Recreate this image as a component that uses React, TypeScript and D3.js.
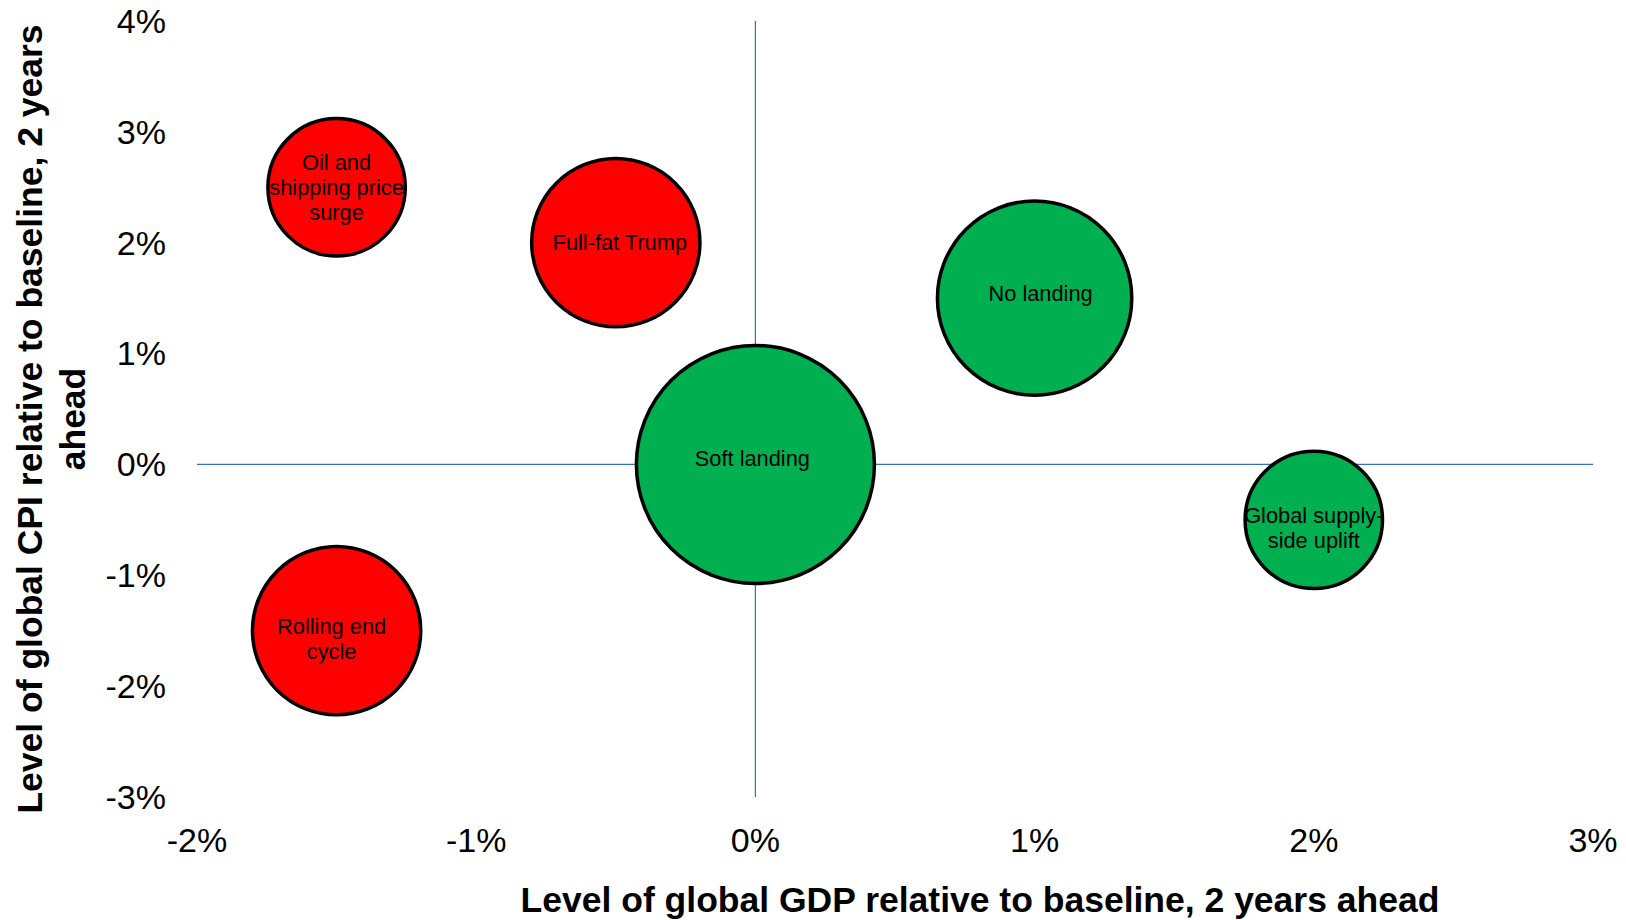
import React from "react";
import * as d3 from "d3";

const scenarios = ["Oil and shipping price surge", "Full-fat Trump", "No landing", "Soft landing", "Global supply-side uplift", "Rolling end cycle"];
const labelLines = [["Oil and", "shipping price", "surge"], ["Full-fat Trump"], ["No landing"], ["Soft landing"], ["Global supply-", "side uplift"], ["Rolling end", "cycle"]];
const gdp = [-0.015, -0.005, 0.01, 0.0, 0.02, -0.015];
const cpi = [0.025, 0.02, 0.015, 0.0, -0.005, -0.015];
const sizes = [10, 15, 20, 30, 10, 15];
const kinds = ["bad", "bad", "good", "good", "good", "bad"];
const xTicks = [-0.02, -0.01, 0, 0.01, 0.02, 0.03];
const yTicks = [-0.03, -0.02, -0.01, 0, 0.01, 0.02, 0.03, 0.04];
const xTitle = "Level of global GDP relative to baseline, 2 years ahead";
const yTitleLines = ["Level of global CPI relative to baseline, 2 years", "ahead"];

// small label placement nudges (pixels), as in the original data labels
const labelNudgeX = [0, 4, 6, -3, 0, -5];
const labelNudgeY = [0, 0, -5, -6, 8, 8];

const W = 1626;
const H = 920;
const FONT = "'Liberation Sans', Arial, sans-serif";

export default function App() {
  const x = d3.scaleLinear().domain([-0.02, 0.03]).range([197, 1593]);
  const y = d3.scaleLinear().domain([-0.03, 0.04]).range([797, 21]);
  const r = d3.scaleSqrt().domain([0, 30]).range([0, 119]);
  const color = d3.scaleOrdinal<string, string>().domain(["bad", "good"]).range(["#FF0000", "#00B050"]);
  const fmt = (v: number) => `${Math.round(v * 100)}%`;
  const lineColor = "#2E75B6";

  return (
    <svg width={W} height={H} style={{ position: "absolute", left: 0, top: 0, background: "#fff" }} fontFamily={FONT}>
      <rect x={0} y={0} width={W} height={H} fill="#fff" />
      <line x1={x(0)} x2={x(0)} y1={y(0.04)} y2={y(-0.03)} stroke={lineColor} strokeWidth={1.2} />
      <line x1={x(-0.02)} x2={x(0.03)} y1={y(0)} y2={y(0)} stroke={lineColor} strokeWidth={1.2} />

      {yTicks.map((t) => (
        <text key={"y" + t} x={166} y={y(t)} dy="0.35em" textAnchor="end" fontSize={34} fill="#000">
          {fmt(t)}
        </text>
      ))}
      {xTicks.map((t) => (
        <text key={"x" + t} x={x(t)} y={852} textAnchor="middle" fontSize={34} fill="#000">
          {fmt(t)}
        </text>
      ))}

      {scenarios.map((s, i) => (
        <circle key={s} cx={x(gdp[i])} cy={y(cpi[i])} r={r(sizes[i])} fill={color(kinds[i])} stroke="#000" strokeWidth={3.5} />
      ))}
      {scenarios.map((s, i) => {
        const lines = labelLines[i];
        const lh = 25;
        const cx = x(gdp[i]) + labelNudgeX[i];
        const y0 = y(cpi[i]) + labelNudgeY[i] - ((lines.length - 1) * lh) / 2;
        return (
          <text key={"l" + s} x={cx} textAnchor="middle" fontSize={21.8} fill="#000">
            {lines.map((ln, j) => (
              <tspan key={j} x={cx} y={y0 + j * lh} dy="0.35em">
                {ln}
              </tspan>
            ))}
          </text>
        );
      })}

      <text x={980} y={912} textAnchor="middle" fontSize={35.5} fontWeight="bold" fill="#000">
        {xTitle}
      </text>
      <g transform={`translate(0, 419) rotate(-90)`}>
        {yTitleLines.map((ln, j) => (
          <text key={j} x={0} y={42 + j * 43} textAnchor="middle" fontSize={35.5} fontWeight="bold" fill="#000">
            {ln}
          </text>
        ))}
      </g>
    </svg>
  );
}
